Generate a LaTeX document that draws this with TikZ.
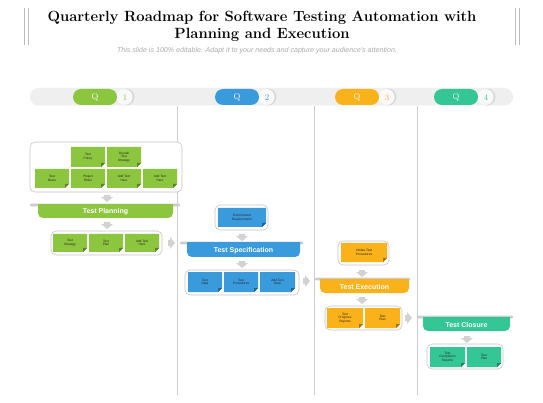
\documentclass[tikz,border=0pt]{standalone}
\usepackage{fontspec}
\setsansfont{Liberation Sans}
\definecolor{cgreen}{HTML}{8CC63F}
\definecolor{cblue}{HTML}{3A9BDC}
\definecolor{cyellow}{HTML}{F9B21A}
\definecolor{cteal}{HTML}{34C795}
\definecolor{lgray}{HTML}{EFEFEF}
\definecolor{bargray}{HTML}{BDBDBD}
\tikzset{
  cardtext/.style={font=\sffamily\fontsize{3.2}{3.7}\selectfont, align=center, text=black!85, inner sep=0pt},
  bannertext/.style={font=\sffamily\bfseries\fontsize{7}{8}\selectfont, text=white, inner sep=0pt},
  outerbox/.style={draw=gray!45, line width=0.6pt, rounded corners=5, fill=white},
  arrowgray/.style={fill=gray!35},
  vline/.style={draw=gray!40, line width=0.6pt},
  qtext/.style={font=\fontsize{8.5}{9}\selectfont, inner sep=0pt}
}
\newcommand{\mycard}[7]{%
  \fill[#6] (#2,#3) -- (#4,#3) -- ({#4},{#5-4}) -- ({#4-4},{#5}) -- (#2,#5) -- cycle;
  \fill[#6!65!black] ({#4},{#5-4}) -- ({#4-4},{#5}) -- ({#4-4},{#5-4}) -- cycle;
  \node[cardtext] (#1) at ({(#2+#4)/2},{(#3+#5)/2}) {#7};
}
\newcommand{\mybanner}[9]{%
  \fill[gray!40, rounded corners=1] (#6,{#4-1.3}) rectangle (#7,{#4+1.3});
  \begin{scope}
    \clip (#2,#4) rectangle (#3,{#5+1});
    \fill[#8, rounded corners=5] (#2,{#4-8}) rectangle (#3,#5);
  \end{scope}
  \node[bannertext] (#1) at ({(#2+#3)/2},{(#4+#5)/2+0.5}) {#9};
}
\newcommand{\downarr}[2]{%
  \fill[arrowgray] ({#1-3},#2) -- ({#1+3},#2) -- ({#1+3},{#2+2}) -- ({#1+6},{#2+2}) -- (#1,{#2+7}) -- ({#1-6},{#2+2}) -- ({#1-3},{#2+2}) -- cycle;
}
\newcommand{\rightarr}[2]{%
  \fill[arrowgray] (#1,{#2-3}) -- ({#1+2},{#2-3}) -- ({#1+2},{#2-6}) -- ({#1+7},#2) -- ({#1+2},{#2+6}) -- ({#1+2},{#2+3}) -- (#1,{#2+3}) -- cycle;
}
\newcommand{\qpill}[5]{% name, x1, x2, color, number
  \fill[gray!30] ({#3+9},97) circle (8.5);
  \fill[gray!5] ({#3+7.5},97) circle (8);
  \fill[#4, rounded corners=8] (#2,89) rectangle (#3,105);
  \node[qtext, text=white] (#1) at ({(#2+#3)/2},97) {Q};
  \node[qtext, text=#4] (#1n) at ({#3+8},97.5) {#5};
}
\begin{document}
\begin{tikzpicture}[x=1pt,y=-1pt]
\useasboundingbox (0,0) rectangle (543,403);
\fill[white] (0,0) rectangle (543,403);
% title bars
\draw[bargray, line width=0.8pt] (24,8) -- (24,45) (28,8) -- (28,45);
\draw[bargray, line width=0.8pt] (515,8) -- (515,45) (519,8) -- (519,45);
\node[font=\bfseries\fontsize{14.8}{17}\selectfont, align=center, inner sep=0] (title) at (262,26) {Quarterly Roadmap for Software Testing Automation with\\Planning and Execution};
\node[font=\sffamily\itshape\fontsize{7.1}{8}\selectfont, text=gray!65, inner sep=0] (sub) at (257,50.5) {This slide is 100\% editable. Adapt it to your needs and capture your audience's attention.};
% timeline
\fill[lgray, rounded corners=8.5] (30,88) rectangle (513,105.5);
\qpill{q1}{73}{117}{cgreen}{1}
\qpill{q2}{215}{259}{cblue}{2}
\qpill{q3}{335}{379}{cyellow}{3}
\qpill{q4}{434}{478}{cteal}{4}
% vertical lines
\draw[vline] (177,106) -- (177,395);
\draw[vline] (314,106) -- (314,395);
\draw[vline] (417,106) -- (417,395);
% ---------- column 1
\draw[outerbox] (30,142) rectangle (182,192);
\mycard{c1a}{71}{147}{105}{167}{cgreen}{Test\\Policy}
\mycard{c1b}{107}{147}{141}{167}{cgreen}{Overall\\Test\\Strategy}
\mycard{c1c}{35}{169}{69}{188}{cgreen}{Test\\Basis}
\mycard{c1d}{71}{169}{105}{188}{cgreen}{Project\\Risks}
\mycard{c1e}{107}{169}{141}{188}{cgreen}{Add Text\\Here}
\mycard{c1f}{143}{169}{177}{188}{cgreen}{Add Text\\Here}
\downarr{107}{195}
\mybanner{b1}{38}{173}{205}{218}{30}{180}{cgreen}{Test Planning}
\downarr{107}{222}
\draw[outerbox] (51,231) rectangle (162,255);
\mycard{c1g}{53}{234}{87}{252}{cgreen}{Test\\Strategy}
\mycard{c1h}{89}{234}{123}{252}{cgreen}{Test\\Plan}
\mycard{c1i}{125}{234}{159}{252}{cgreen}{Add Text\\Here}
\rightarr{168}{243}
% ---------- column 2
\draw[outerbox] (215,205) rectangle (268,230);
\mycard{c2a}{218}{208}{266}{227}{cblue}{Environment\\Requirements}
\downarr{242}{234}
\mybanner{b2}{187}{300}{243}{257}{180}{303}{cblue}{Test Specification}
\downarr{242}{261}
\draw[outerbox] (185,270) rectangle (299,295);
\mycard{c2b}{188}{272}{222}{292}{cblue}{Test\\Data}
\mycard{c2c}{224}{272}{258}{292}{cblue}{Test\\Procedures}
\mycard{c2d}{260}{272}{295}{292}{cblue}{Add Text\\Here}
\rightarr{303}{281}
% ---------- column 3
\draw[outerbox] (338,241) rectangle (389,265);
\mycard{c3a}{341}{243}{387}{262}{cyellow}{Initiate Test\\Procedures}
\downarr{362}{270}
\mybanner{b3}{320}{409}{279}{293}{315}{410}{cyellow}{Test Execution}
\downarr{362}{297}
\draw[outerbox] (325,306) rectangle (402,330);
\mycard{c3b}{327}{308}{363}{328}{cyellow}{Test\\Progress\\Reports}
\mycard{c3c}{365}{308}{400}{328}{cyellow}{Test\\Plan}
\rightarr{405}{318}
% ---------- column 4
\mybanner{b4}{423}{510}{317}{331}{417}{513}{cteal}{Test Closure}
\downarr{467}{336}
\draw[outerbox] (427,344) rectangle (503,369);
\mycard{c4a}{430}{347}{465}{367}{cteal}{Test\\Completion\\Reports}
\mycard{c4b}{467}{347}{501}{367}{cteal}{Test\\Plan}
\end{tikzpicture}
\end{document}
